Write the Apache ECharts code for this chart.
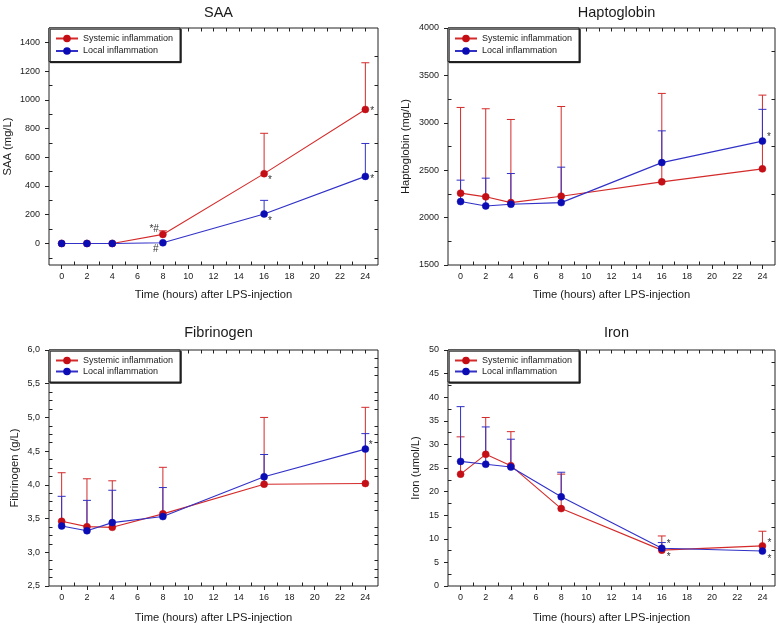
<!DOCTYPE html>
<html><head><meta charset="utf-8">
<script src="https://cdn.jsdelivr.net/npm/echarts@6/dist/echarts.min.js"></script>
<style>html,body{margin:0;padding:0;background:#fff}#chart{width:778px;height:626px}</style>
</head><body><div id="chart"></div>
<script>
// ---------------- data ----------------
const hours = [0, 2, 4, 8, 16, 24];
const xTicks = [0, 2, 4, 6, 8, 10, 12, 14, 16, 18, 20, 22, 24];
const legendNames = ['Systemic inflammation', 'Local inflammation'];
const xAxisTitle = 'Time (hours) after LPS-injection';

// SAA (mg/L)
const saaSystemic      = [0, 0, 0, 63, 486, 933];
const saaSystemicUpper = [null, null, null, 88, 767, 1258];
const saaLocal         = [0, 0, 0, 5, 205, 467];
const saaLocalUpper    = [null, null, null, null, 300, 696];
const saaSystemicMarks = ['', '', '', '*#', '*', '*'];
const saaLocalMarks    = ['', '', '', '#', '*', '*'];
const saaTicks = [0, 200, 400, 600, 800, 1000, 1200, 1400];

// Haptoglobin (mg/L)
const haptoSystemic      = [2258, 2219, 2158, 2226, 2377, 2514];
const haptoSystemicUpper = [3162, 3148, 3035, 3172, 3310, 3292];
const haptoLocal         = [2169, 2123, 2141, 2158, 2580, 2807];
const haptoLocalUpper    = [2395, 2416, 2465, 2532, 2915, 3142];
const haptoSystemicMarks = ['', '', '', '', '', ''];
const haptoLocalMarks    = ['', '', '', '', '', '*'];
const haptoTicks = [1500, 2000, 2500, 3000, 3500, 4000];

// Fibrinogen (g/L)
const fibSystemic      = [3.46, 3.38, 3.37, 3.57, 4.01, 4.02];
const fibSystemicUpper = [4.18, 4.09, 4.06, 4.26, 5.00, 5.15];
const fibLocal         = [3.39, 3.32, 3.44, 3.53, 4.12, 4.53];
const fibLocalUpper    = [3.83, 3.77, 3.92, 3.96, 4.45, 4.76];
const fibSystemicMarks = ['', '', '', '', '', ''];
const fibLocalMarks    = ['', '', '', '', '', '*'];
const fibTicks = [2.5, 3.0, 3.5, 4.0, 4.5, 5.0, 5.5, 6.0];

// Iron (umol/L)
const ironSystemic      = [23.7, 27.9, 25.5, 16.4, 7.6, 8.5];
const ironSystemicUpper = [31.6, 35.7, 32.7, 23.7, 10.6, 11.6];
const ironLocal         = [26.4, 25.8, 25.2, 18.9, 8.0, 7.4];
const ironLocalUpper    = [38.0, 33.7, 31.1, 24.1, 9.2, null];
const ironSystemicMarks = ['', '', '', '', '*', '*'];
const ironLocalMarks    = ['', '', '', '', '*', '*'];
const ironTicks = [0, 5, 10, 15, 20, 25, 30, 35, 40, 45, 50];

// ---------------- style / layout ----------------
const FONT = '"Liberation Sans", Arial, Helvetica, sans-serif';
const TXT = '#1a1a1a';
const AX = '#222';
const RED_LINE = '#d42a2a', RED_MK = '#c40f16';
const BLUE_LINE = '#3131c8', BLUE_MK = '#0c0cb4';

const panels = [
  { title: 'SAA', yName: 'SAA (mg/L)', yMin: -150, yMax: 1500, yTicks: saaTicks, minorDiv: 2, comma: false,
    sys: saaSystemic, sysUp: saaSystemicUpper, loc: saaLocal, locUp: saaLocalUpper,
    sysMarks: saaSystemicMarks, locMarks: saaLocalMarks,
    grid: { left: 49, top: 28, width: 329, height: 237 }, titleTop: 0, yNameGap: 36, xNameGap: 24, legendGap: 3.5,
    sysPlace: { 3: [-4, -5, 'right'], 4: [4, 6.5, 'left'], 5: [5, 2, 'left'] },
    locPlace: { 3: [-7, 6.5, 'center'], 4: [4, 7, 'left'], 5: [5, 2.5, 'left'] } },
  { title: 'Haptoglobin', yName: 'Haptoglobin (mg/L)', yMin: 1500, yMax: 4000, yTicks: haptoTicks, minorDiv: 2, comma: false,
    sys: haptoSystemic, sysUp: haptoSystemicUpper, loc: haptoLocal, locUp: haptoLocalUpper,
    sysMarks: haptoSystemicMarks, locMarks: haptoLocalMarks,
    grid: { left: 448, top: 28, width: 327, height: 237 }, titleTop: 0, yNameGap: 37, xNameGap: 24, legendGap: 3.5,
    sysPlace: {}, locPlace: { 5: [4.5, -4.3, 'left'] } },
  { title: 'Fibrinogen', yName: 'Fibrinogen (g/L)', yMin: 2.5, yMax: 6.0, yTicks: fibTicks, minorDiv: 4, comma: true,
    sys: fibSystemic, sysUp: fibSystemicUpper, loc: fibLocal, locUp: fibLocalUpper,
    sysMarks: fibSystemicMarks, locMarks: fibLocalMarks,
    grid: { left: 49, top: 350, width: 329, height: 236 }, titleTop: 320, yNameGap: 29, xNameGap: 26, legendGap: 2,
    sysPlace: {}, locPlace: { 5: [3.5, -4, 'left'] } },
  { title: 'Iron', yName: 'Iron (umol/L)', yMin: 0, yMax: 50, yTicks: ironTicks, minorDiv: 2, comma: false,
    sys: ironSystemic, sysUp: ironSystemicUpper, loc: ironLocal, locUp: ironLocalUpper,
    sysMarks: ironSystemicMarks, locMarks: ironLocalMarks,
    grid: { left: 448, top: 350, width: 327, height: 236 }, titleTop: 320, yNameGap: 27, xNameGap: 26, legendGap: 2,
    sysPlace: { 4: [5, 7, 'left'], 5: [5, -3, 'left'] },
    locPlace: { 4: [5, -3.6, 'left'], 5: [5, 8, 'left'] } }
];

function minorValues(majors, div, min, max) {
  const step = (majors[1] - majors[0]) / div;
  const out = [];
  const eps = step * 1e-6;
  for (let v = majors[0] - step; v > min + eps; v -= step) out.push(+v.toFixed(6));
  for (let i = 0; i < majors.length - 1; i++) {
    for (let k = 1; k < div; k++) out.push(+(majors[i] + k * step).toFixed(6));
  }
  for (let v = majors[majors.length - 1] + step; v < max - eps; v += step) out.push(+v.toFixed(6));
  return out;
}

const xMinor = minorValues(xTicks, 2, -1, 25);
const xAll = xTicks.concat(xMinor).sort((a, b) => a - b);

function errRender(color) {
  return function (params, api) {
    const x = api.value(0), m = api.value(1), u = api.value(2);
    const p0 = api.coord([x, m]), p1 = api.coord([x, u]);
    const style = { stroke: color, lineWidth: 1, fill: null };
    return { type: 'group', children: [
      { type: 'line', shape: { x1: p0[0], y1: p0[1], x2: p1[0], y2: p1[1] }, style },
      { type: 'line', shape: { x1: p1[0] - 4, y1: p1[1], x2: p1[0] + 4, y2: p1[1] }, style }
    ]};
  };
}

function markRender(marks, place) {
  return function (params, api) {
    const i = api.value(2);
    const p = api.coord([api.value(0), api.value(1)]);
    const pl = place[i] || [5, 0, 'left'];
    return { type: 'text', x: p[0] + pl[0], y: p[1] + pl[1],
      style: { text: marks[i], fill: '#333', fontSize: 10, fontFamily: FONT, align: pl[2], verticalAlign: 'middle' } };
  };
}

const grid = [], xAxis = [], yAxis = [], series = [], title = [], legend = [];
const baseAxis = (gi) => ({ type: 'value', gridIndex: gi, splitLine: { show: false }, axisLine: { show: false, onZero: false } });
const tickLine = { color: AX, width: 1 };

panels.forEach((p, gi) => {
  grid.push(Object.assign({ show: true, borderColor: AX, borderWidth: 1, backgroundColor: 'transparent', containLabel: false }, p.grid));
  title.push({ text: p.title, left: p.grid.left + p.grid.width / 2, top: p.titleTop, textAlign: 'center',
    textStyle: { fontSize: 14.5, fontWeight: 'normal', color: TXT, fontFamily: FONT } });
  legend.push({ orient: 'vertical', left: p.grid.left, top: p.grid.top, padding: [6, 7, 6, 6], itemGap: p.legendGap,
    itemWidth: 22, itemHeight: 7, backgroundColor: '#fff', borderColor: AX, borderWidth: 1,
    shadowColor: 'rgba(0,0,0,0.85)', shadowOffsetX: 1.2, shadowOffsetY: 1.2, shadowBlur: 0,
    selectedMode: false, data: legendNames, textStyle: { fontSize: 9, color: TXT, fontFamily: FONT } });

  const yMinor = minorValues(p.yTicks, p.minorDiv, p.yMin, p.yMax);
  const fmtY = p.comma ? (v => v.toFixed(1).replace('.', ',')) : (v => String(v));

  // x axes: bottom major, bottom minor, top
  xAxis.push(Object.assign(baseAxis(gi), { min: -1, max: 25, position: 'bottom',
    axisTick: { show: true, inside: false, length: 4, customValues: xTicks, lineStyle: tickLine },
    axisLabel: { customValues: xTicks, fontSize: 9, margin: 7, color: TXT, fontFamily: FONT },
    name: xAxisTitle, nameLocation: 'middle', nameGap: p.xNameGap,
    nameTextStyle: { fontSize: 11.2, color: TXT, fontFamily: FONT } }));
  xAxis.push(Object.assign(baseAxis(gi), { min: -1, max: 25, position: 'bottom',
    axisTick: { show: true, inside: true, length: 3.5, customValues: xMinor, lineStyle: tickLine },
    axisLabel: { show: false } }));
  xAxis.push(Object.assign(baseAxis(gi), { min: -1, max: 25, position: 'top',
    axisTick: { show: true, inside: true, length: 3.5, customValues: xAll, lineStyle: tickLine },
    axisLabel: { show: false } }));

  // y axes: left major, left minor, right minor
  yAxis.push(Object.assign(baseAxis(gi), { min: p.yMin, max: p.yMax, position: 'left',
    axisTick: { show: true, inside: false, length: 4, customValues: p.yTicks, lineStyle: tickLine },
    axisLabel: { customValues: p.yTicks, formatter: fmtY, fontSize: 9, margin: 9, color: TXT, fontFamily: FONT },
    name: p.yName, nameLocation: 'middle', nameGap: p.yNameGap, nameRotate: 90,
    nameTextStyle: { fontSize: 11.2, color: TXT, fontFamily: FONT } }));
  yAxis.push(Object.assign(baseAxis(gi), { min: p.yMin, max: p.yMax, position: 'left',
    axisTick: { show: true, inside: true, length: 3.5, customValues: yMinor, lineStyle: tickLine },
    axisLabel: { show: false } }));
  yAxis.push(Object.assign(baseAxis(gi), { min: p.yMin, max: p.yMax, position: 'right',
    axisTick: { show: true, inside: true, length: 3.5, customValues: yMinor, lineStyle: tickLine },
    axisLabel: { show: false } }));

  const xi = gi * 3, yi = gi * 3;
  const groups = [
    { name: legendNames[0], vals: p.sys, up: p.sysUp, marks: p.sysMarks, place: p.sysPlace, line: RED_LINE, mk: RED_MK },
    { name: legendNames[1], vals: p.loc, up: p.locUp, marks: p.locMarks, place: p.locPlace, line: BLUE_LINE, mk: BLUE_MK }
  ];
  groups.forEach(g => {
    series.push({ type: 'custom', xAxisIndex: xi, yAxisIndex: yi, silent: true, z: 2,
      renderItem: errRender(g.line),
      data: hours.map((h, i) => [h, g.vals[i], g.up[i]]).filter(d => d[2] != null) });
    series.push({ type: 'line', name: g.name, xAxisIndex: xi, yAxisIndex: yi, z: 2,
      data: hours.map((h, i) => [h, g.vals[i]]), symbol: 'circle', symbolSize: 7, showSymbol: true,
      itemStyle: { color: g.mk, borderColor: g.mk, borderWidth: 0.5 },
      lineStyle: { color: g.line, width: 1.1 }, emphasis: { disabled: true } });
  });
  groups.forEach(g => {
    series.push({ type: 'custom', xAxisIndex: xi, yAxisIndex: yi, silent: true, z: 3,
      renderItem: markRender(g.marks, g.place),
      data: hours.map((h, i) => [h, g.vals[i], i]).filter(d => g.marks[d[2]]) });
  });
});

const chart = echarts.init(document.getElementById('chart'), null, { renderer: 'canvas' });
chart.setOption({ animation: false, backgroundColor: '#fff', textStyle: { fontFamily: FONT },
  title, legend, grid, xAxis, yAxis, series, tooltip: { show: false } });
</script></body></html>
